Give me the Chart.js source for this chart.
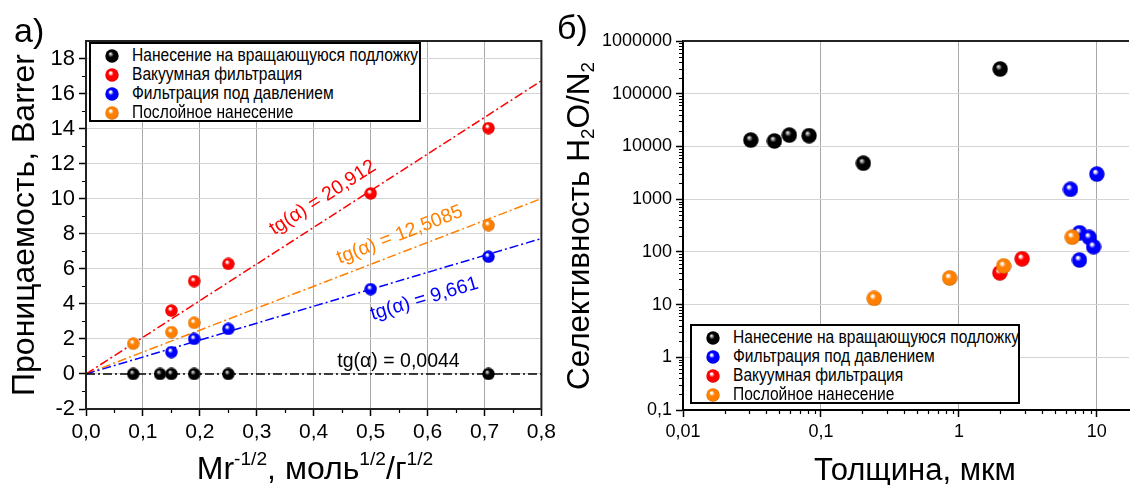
<!DOCTYPE html>
<html>
<head>
<meta charset="utf-8">
<script src="https://cdn.jsdelivr.net/npm/chart.js@4/dist/chart.umd.min.js"></script>
<style>
    body { margin: 0; background: #fff; font-family: "Liberation Sans", Arial, sans-serif; }
    #wrap { position: relative; width: 1134px; height: 485px; overflow: hidden; }
    #cA { position: absolute; left: 0; top: 0; }
    #cB { position: absolute; left: 560px; top: 0; }
    .t { position: absolute; white-space: nowrap; color: #000; line-height: 1; }
    .rot { transform: translate(-50%, -50%) rotate(-90deg); }
    .ctr { transform: translate(-50%, -50%); }
    .t sup, .t sub { font-size: 0.6em; line-height: 0; }
    .t sup { vertical-align: 0.75em; }
    .t sub { vertical-align: -0.25em; }
    .legend { position: absolute; border: 2px solid #000; background: #fff; box-sizing: border-box; padding: 2px 0 0 0; }
    .legend div { height: 19px; display: flex; align-items: center; white-space: nowrap; }
    .legend canvas { margin: 0 13px 0 14px; }
    .legend span { display: inline-block; font-size: 17.5px; transform: scaleX(0.89); transform-origin: 0 50%; }
</style>
</head>
<body>
<div id="wrap">
    <canvas id="cA" width="560" height="485"></canvas>
    <canvas id="cB" width="574" height="485"></canvas>

    <div class="t" style="left:14px; top:13px; font-size:34px;">a)</div>
    <div class="t rot" style="left:23px; top:225px; font-size:32px;">Проницаемость, Barrer</div>
    <div class="t ctr" style="left:315px; top:468px; font-size:32px;">Mr<sup>-1/2</sup>, моль<sup>1/2</sup>/г<sup>1/2</sup></div>

    <div class="t" style="left:557px; top:10px; font-size:34px;">б)</div>
    <div class="t rot" style="left:579px; top:226px; font-size:31.5px;">Селективность H<sub>2</sub>O/N<sub>2</sub></div>
    <div class="t ctr" style="left:915px; top:469px; font-size:31px;">Толщина, мкм</div>

    <div class="legend" id="legA" style="left:89px; top:42px; width:332px; height:80px;"></div>
    <div class="legend" id="legB" style="left:690px; top:324px; width:330px; height:80px;"></div>
</div>

<script>
// series names and colours
const groups = ['Нанесение на вращающуюся подложку', 'Вакуумная фильтрация', 'Фильтрация под давлением', 'Послойное нанесение'];
const colors = ['#000000', '#ff0000', '#0000ff', '#ff8000'];

// а) permeability vs Mr^-1/2
const spinX = [0.083, 0.13, 0.15, 0.19, 0.25, 0.707];
const spinY = [0, 0, 0, 0, 0, 0];
const vacX = [0.15, 0.19, 0.25, 0.5, 0.707];
const vacY = [3.62, 5.3, 6.28, 10.3, 14.03];
const pressX = [0.15, 0.19, 0.25, 0.5, 0.707];
const pressY = [1.25, 2.0, 2.57, 4.84, 6.69];
const layerX = [0.083, 0.15, 0.19, 0.707];
const layerY = [1.73, 2.39, 2.92, 8.49];
const slopes = [0.0044, 20.912, 9.661, 12.5085];   // tg(α) of each fit, same order as groups
const fitX = [0, 0.8];
const ticksAX = [0, 0.1, 0.2, 0.3, 0.4, 0.5, 0.6, 0.7, 0.8];
const ticksAY = [-2, 0, 2, 4, 6, 8, 10, 12, 14, 16, 18];

// б) selectivity H2O/N2 vs thickness
const spinT = [0.031, 0.046, 0.059, 0.082, 0.203, 1.99];
const spinS = [13200, 12700, 16400, 16000, 4800, 294000];
const pressT = [6.44, 10.0, 7.5, 8.8, 9.46, 7.48];
const pressS = [1535, 2990, 230, 188, 125, 70];
const vacT = [1.98, 2.87];
const vacS = [40, 74];
const layerT = [0.243, 0.857, 2.11, 6.63];
const layerS = [13.1, 32, 54, 190];
const ticksBX = [0.01, 0.1, 1, 10];
const ticksBY = [0.1, 1, 10, 100, 1000, 10000, 100000, 1000000];

const FONT = '"Liberation Sans", Arial, sans-serif';

// glossy ball marker
function sphere(color, d) {
    const c = document.createElement('canvas');
    c.width = d; c.height = d;
    const g = c.getContext('2d');
    const r = d / 2;
    const grad = g.createRadialGradient(r * 0.75, r * 0.65, 0, r, r, r);
    grad.addColorStop(0, '#ffffff');
    grad.addColorStop(0.12, color === '#000000' ? '#bbbbbb' : '#ffffff');
    grad.addColorStop(0.4, color);
    grad.addColorStop(0.85, color);
    grad.addColorStop(1, color === '#000000' ? '#000000' : shade(color));
    g.fillStyle = grad;
    g.beginPath();
    g.arc(r, r, r - 0.3, 0, Math.PI * 2);
    g.fill();
    return c;
}
function shade(hex) {
    const n = parseInt(hex.slice(1), 16);
    const f = 0.7;
    return 'rgb(' + Math.round((n >> 16) * f) + ',' + Math.round(((n >> 8) & 255) * f) + ',' + Math.round((n & 255) * f) + ')';
}
function pts(xs, ys) {
    return xs.map((x, i) => ({ x: x, y: ys[i] }));
}
function comma(v) {
    return String(v).replace('.', ',');
}

// minor ticks + frame
const extras = {
    id: 'extras',
    afterDraw(chart, args, opts) {
        const { ctx, chartArea: a, scales: { x, y } } = chart;
        ctx.save();
        ctx.strokeStyle = '#000';
        ctx.lineWidth = 1.2;
        ctx.beginPath();
        opts.minorX.forEach(v => {
            const p = Math.round(x.getPixelForValue(v)) + 0.5;
            ctx.moveTo(p, a.bottom); ctx.lineTo(p, a.bottom + 4);
        });
        opts.minorY.forEach(v => {
            const p = Math.round(y.getPixelForValue(v)) + 0.5;
            ctx.moveTo(a.left, p); ctx.lineTo(a.left - 4, p);
        });
        ctx.stroke();
        ctx.lineWidth = 2;
        ctx.strokeStyle = '#222';
        if (opts.box) {
            ctx.strokeRect(a.left, a.top, a.right - a.left, a.bottom - a.top);
        } else {
            ctx.beginPath();
            ctx.moveTo(a.left, a.top); ctx.lineTo(a.right, a.top);
            ctx.stroke();
        }
        ctx.restore();
    }
};

// rotated tg(α) labels along the fit lines
const slopeLabels = {
    id: 'slopeLabels',
    afterDatasetsDraw(chart, args, opts) {
        if (!opts.items) return;
        const { ctx, scales: { x, y } } = chart;
        opts.items.forEach(it => {
            const k = slopes[it.i];
            const x0 = x.getPixelForValue(fitX[0]), y0 = y.getPixelForValue(k * fitX[0]);
            const x1 = x.getPixelForValue(fitX[1]), y1 = y.getPixelForValue(k * fitX[1]);
            const ang = Math.atan2(y1 - y0, x1 - x0);
            ctx.save();
            ctx.translate(x.getPixelForValue(it.at), y.getPixelForValue(k * it.at));
            ctx.rotate(ang);
            ctx.fillStyle = colors[it.i];
            ctx.font = '19.5px ' + FONT;
            ctx.textAlign = 'center';
            ctx.textBaseline = 'middle';
            ctx.fillText('tg(α) = ' + comma(k), 0, it.dy);
            ctx.restore();
        });
    }
};

const ballA = colors.map(c => sphere(c, 13));
const ballB = colors.map(c => sphere(c, 16));

function fitLine(i) {
    return {
        data: fitX.map(x => ({ x: x, y: slopes[i] * x })),
        showLine: true,
        borderColor: colors[i],
        borderWidth: 1.5,
        borderDash: [9, 3, 2, 3],
        pointRadius: 0,
        order: 10
    };
}

function axis(type, min, max, ticks, size, gridColor, fmt, afterFit) {
    return {
        type: type,
        min: min,
        max: max,
        afterBuildTicks: s => { s.ticks = ticks.map(v => ({ value: v })); },
        afterFit: afterFit,
        border: { color: '#000', width: 2 },
        grid: { color: gridColor, lineWidth: 1, tickColor: '#000', tickWidth: 1.5, tickLength: 7 },
        ticks: {
            autoSkip: false, maxRotation: 0, padding: 4,
            color: '#000',
            font: { family: FONT, size: size },
            callback: fmt
        }
    };
}

new Chart(document.getElementById('cA'), {
    type: 'scatter',
    data: {
        datasets: [
            fitLine(0), fitLine(1), fitLine(2), fitLine(3),
            { data: pts(spinX, spinY), pointStyle: ballA[0], order: 3 },
            { data: pts(vacX, vacY), pointStyle: ballA[1], order: 2 },
            { data: pts(pressX, pressY), pointStyle: ballA[2], order: 1 },
            { data: pts(layerX, layerY), pointStyle: ballA[3], order: 0 }
        ]
    },
    options: {
        responsive: false,
        animation: false,
        events: [],
        layout: { padding: { top: 41, right: 16, left: 0, bottom: 0 } },
        plugins: {
            legend: { display: false },
            tooltip: { enabled: false },
            extras: {
                box: true,
                minorX: [0.05, 0.15, 0.25, 0.35, 0.45, 0.55, 0.65, 0.75],
                minorY: [-1, 1, 3, 5, 7, 9, 11, 13, 15, 17]
            },
            slopeLabels: {
                items: [
                    { i: 1, at: 0.435, dy: -20 },
                    { i: 3, at: 0.562, dy: -17 },
                    { i: 2, at: 0.582, dy: 24.6 },
                    { i: 0, at: 0.549, dy: -12.5 }
                ]
            }
        },
        scales: {
            x: axis('linear', 0, 0.8, ticksAX, 21, '#a8a8a8', v => v.toFixed(1).replace('.', ','), s => { s.height = 76; }),
            y: axis('linear', -2, 19, ticksAY, 22, '#d4d4d4', v => String(v), s => { s.width = 86; })
        }
    },
    plugins: [extras, slopeLabels]
});

const minorLog = (lo, hi) => {
    const out = [];
    for (let d = lo; d < hi; d *= 10) for (let m = 2; m <= 9; m++) out.push(d * m);
    return out;
};

new Chart(document.getElementById('cB'), {
    type: 'scatter',
    data: {
        datasets: [
            { data: pts(spinT, spinS), pointStyle: ballB[0], order: 3 },
            { data: pts(pressT, pressS), pointStyle: ballB[2], order: 2 },
            { data: pts(vacT, vacS), pointStyle: ballB[1], order: 1 },
            { data: pts(layerT, layerS), pointStyle: ballB[3], order: 0 }
        ]
    },
    options: {
        responsive: false,
        animation: false,
        events: [],
        layout: { padding: { top: 41, right: 0, left: 0, bottom: 0 } },
        plugins: {
            legend: { display: false },
            tooltip: { enabled: false },
            extras: { box: false, minorX: minorLog(0.01, 17), minorY: minorLog(0.1, 1000000) }
        },
        scales: {
            x: axis('logarithmic', 0.01, 17.1, ticksBX, 18, '#a8a8a8', v => comma(v), s => { s.height = 75; }),
            y: axis('logarithmic', 0.1, 1000000, ticksBY, 18, '#d4d4d4', v => comma(v), s => { s.width = 123; })
        }
    },
    plugins: [extras]
});

// legends built from the same names and colours
function legend(id, order) {
    const box = document.getElementById(id);
    order.forEach(i => {
        const row = document.createElement('div');
        const txt = document.createElement('span');
        txt.textContent = groups[i];
        row.appendChild(sphere(colors[i], 14));
        row.appendChild(txt);
        box.appendChild(row);
    });
}
legend('legA', [0, 1, 2, 3]);
legend('legB', [0, 2, 1, 3]);
</script>
</body>
</html>
